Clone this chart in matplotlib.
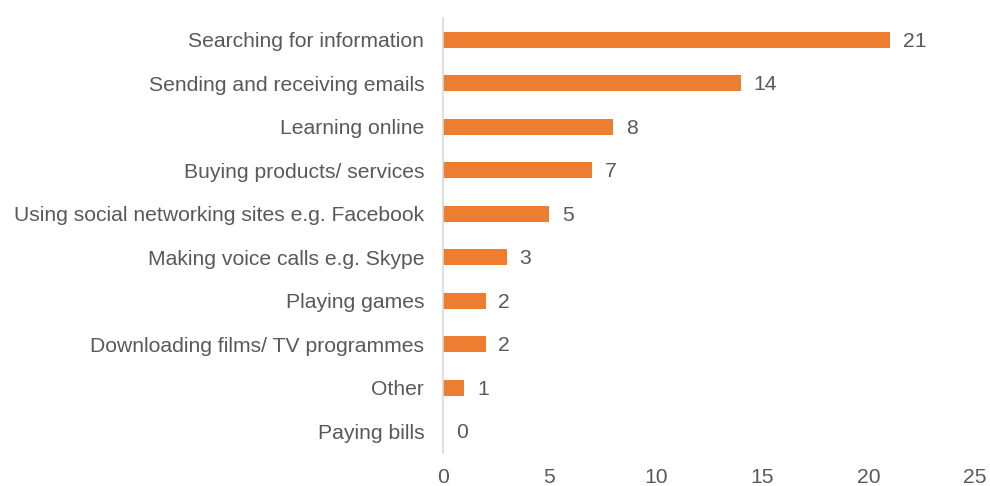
import matplotlib.pyplot as plt

plt.rcParams['font.family'] = ['Liberation Sans', 'DejaVu Sans']

activities = ['Searching for information', 'Sending and receiving emails', 'Learning online',
              'Buying products/ services', 'Using social networking sites e.g. Facebook',
              'Making voice calls e.g. Skype', 'Playing games', 'Downloading films/ TV programmes',
              'Other', 'Paying bills']
counts = [21, 14, 8, 7, 5, 3, 2, 2, 1, 0]
xticks = [0, 5, 10, 15, 20, 25]

txt = '#595959'
fs = 15.2
fig = plt.figure(figsize=(9.9, 4.86), dpi=100)
ax = fig.add_axes([0.4475, 0.068, 0.5375, 0.895])

pos = range(len(activities))
ax.barh(pos, counts, height=0.37, color='#ED7D31')
for y, v in zip(pos, counts):
    ax.text(v + 0.6, y + 0.04, str(v), va='center', ha='left', fontsize=fs, color=txt)

ax.set_ylim(len(activities) - 0.5, -0.5)
ax.set_xlim(0, 25)
ax.set_yticks(list(pos))
ax.set_yticklabels(activities, fontsize=fs, color=txt)
ax.set_xticks(xticks)
ax.set_xticklabels([str(t) for t in xticks], fontsize=fs, color=txt)
ax.tick_params(length=0)
ax.tick_params(axis='y', pad=13.5)
ax.tick_params(axis='x', pad=10.5)
for s in ['top', 'right', 'bottom']:
    ax.spines[s].set_visible(False)
ax.spines['left'].set_color('#D9D9D9')
ax.spines['left'].set_linewidth(1.2)

fig.savefig('out.png', dpi=100)
